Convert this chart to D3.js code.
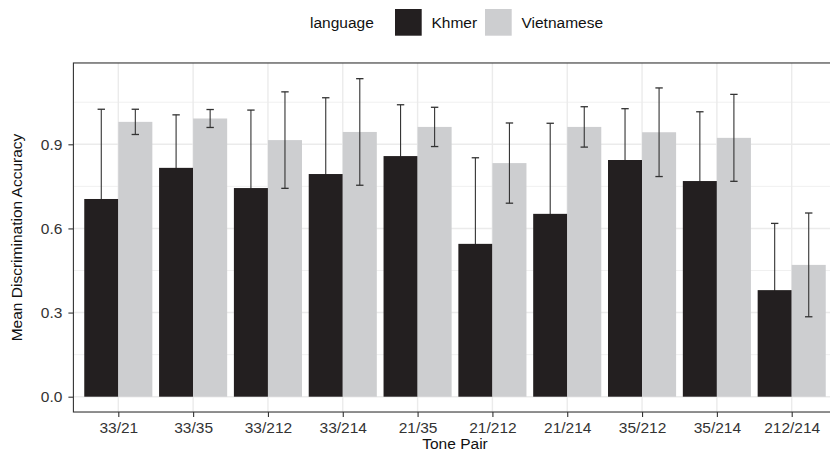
<!DOCTYPE html>
<html>
<head>
<meta charset="utf-8">
<script src="https://cdn.jsdelivr.net/npm/d3@7"></script>
<style>
  body { margin: 0; background: #fff; }
  svg { display: block; font-family: "Liberation Sans", Arial, sans-serif; }
</style>
</head>
<body>
<svg id="chart" width="830" height="451"></svg>
<script>
// tone pairs on the x axis
var tonePairs = ["33/21", "33/35", "33/212", "33/214", "21/35", "21/212", "21/214", "35/212", "35/214", "212/214"];
var languages = ["Khmer", "Vietnamese"];

// mean accuracy and error bar half widths
var khmerMean = [0.705, 0.816, 0.744, 0.794, 0.858, 0.545, 0.652, 0.844, 0.769, 0.380];
var khmerErr  = [0.320, 0.189, 0.278, 0.272, 0.183, 0.307, 0.323, 0.183, 0.247, 0.238];
var vietMean  = [0.980, 0.992, 0.915, 0.944, 0.962, 0.833, 0.962, 0.943, 0.923, 0.470];
var vietErr   = [0.045, 0.032, 0.172, 0.190, 0.070, 0.143, 0.072, 0.158, 0.155, 0.185];

var yTicks = [0, 0.3, 0.6, 0.9];
var yMinor = [0.15, 0.45, 0.75, 1.05];

var colors = { "Khmer": "#231f20", "Vietnamese": "#cdced0" };

var svg = d3.select("#chart");

var x = d3.scalePoint().domain(tonePairs).range([118.3, 791.7]);
var y = d3.scaleLinear().domain([0, 0.9]).range([396.7, 144.3]);

var step = x.step();
var panelLeft = x(tonePairs[0]) - 0.6 * step;
var panelRight = x(tonePairs[tonePairs.length - 1]) + 0.6 * step;
var panelTop = y(1.19);
var panelBottom = y(-0.0546);
var dodge = step * 0.91;

// rows for the bars
var rows = [];
tonePairs.forEach(function(p, i) {
    rows.push({ pair: p, lang: "Khmer", mean: khmerMean[i], err: khmerErr[i], k: 0 });
    rows.push({ pair: p, lang: "Vietnamese", mean: vietMean[i], err: vietErr[i], k: 1 });
});

var g = svg.append("g");

// grid
g.selectAll(".minor").data(yMinor).enter().append("line")
    .attr("x1", panelLeft).attr("x2", panelRight)
    .attr("y1", function(d) { return y(d); }).attr("y2", function(d) { return y(d); })
    .style("stroke", "#f0f0f0").style("stroke-width", 1);
g.selectAll(".major").data(yTicks).enter().append("line")
    .attr("x1", panelLeft).attr("x2", panelRight)
    .attr("y1", function(d) { return y(d); }).attr("y2", function(d) { return y(d); })
    .style("stroke", "#ebebeb").style("stroke-width", 1.4);
g.selectAll(".vgrid").data(tonePairs).enter().append("line")
    .attr("x1", function(d) { return x(d); }).attr("x2", function(d) { return x(d); })
    .attr("y1", panelTop).attr("y2", panelBottom)
    .style("stroke", "#ebebeb").style("stroke-width", 1.4);

function drawErrors(data) {
    var eb = g.selectAll(null).data(data).enter().append("g")
        .attr("transform", function(d) { return "translate(" + (x(d.pair) - dodge / 4 + d.k * dodge / 2) + ",0)"; });
    eb.append("line")
        .attr("x1", 0).attr("x2", 0)
        .attr("y1", function(d) { return y(d.mean - d.err); })
        .attr("y2", function(d) { return y(d.mean + d.err); })
        .style("stroke", "#333").style("stroke-width", 1.1);
    eb.selectAll(null).data(function(d) { return [d.mean - d.err, d.mean + d.err]; }).enter().append("line")
        .attr("x1", -3.7).attr("x2", 3.7)
        .attr("y1", function(v) { return y(v); }).attr("y2", function(v) { return y(v); })
        .style("stroke", "#333").style("stroke-width", 1.3);
}

// khmer error bars sit behind the dark bars
drawErrors(rows.filter(function(d) { return d.k === 0; }));

// bars
g.selectAll(".bar").data(rows).enter().append("rect")
    .attr("x", function(d) { return x(d.pair) - dodge / 2 + d.k * dodge / 2; })
    .attr("width", dodge / 2)
    .attr("y", function(d) { return y(d.mean); })
    .attr("height", function(d) { return y(0) - y(d.mean); })
    .style("fill", function(d) { return colors[d.lang]; });

drawErrors(rows.filter(function(d) { return d.k === 1; }));

// panel border
g.append("rect")
    .attr("x", panelLeft).attr("y", panelTop)
    .attr("width", panelRight - panelLeft).attr("height", panelBottom - panelTop)
    .style("fill", "none").style("stroke", "#333").style("stroke-width", 1.1);

// axes
var yAxis = g.append("g")
    .attr("transform", "translate(" + panelLeft + ",0)")
    .call(d3.axisLeft(y).tickValues(yTicks).tickFormat(d3.format(".1f")).tickSize(5).tickPadding(6));
var xAxis = g.append("g")
    .attr("transform", "translate(0," + panelBottom + ")")
    .call(d3.axisBottom(x).tickSize(5).tickPadding(5));
[yAxis, xAxis].forEach(function(a) {
    a.select(".domain").remove();
    a.selectAll(".tick line").style("stroke", "#333").style("stroke-width", 1.1);
    a.selectAll(".tick text").style("font-size", "15.5px").style("fill", "#333")
        .style("font-family", "Liberation Sans, Arial, sans-serif");
});

// axis titles
svg.append("text")
    .attr("x", (panelLeft + panelRight) / 2).attr("y", 449)
    .attr("text-anchor", "middle")
    .style("font-size", "15.5px").style("fill", "#111")
    .text("Tone Pair");
svg.append("text")
    .attr("transform", "translate(22," + ((panelTop + panelBottom) / 2) + ") rotate(-90)")
    .attr("text-anchor", "middle")
    .style("font-size", "15.5px").style("fill", "#111")
    .text("Mean Discrimination Accuracy");

// legend
var legend = svg.append("g");
legend.append("text")
    .attr("x", 310).attr("y", 28.3)
    .style("font-size", "15.5px").style("fill", "#111")
    .text("language");
var keyX = [395, 485];
languages.forEach(function(l, i) {
    legend.append("rect")
        .attr("x", keyX[i]).attr("y", 9)
        .attr("width", 26.7).attr("height", 26.7)
        .style("fill", colors[l]);
    legend.append("text")
        .attr("x", keyX[i] + 36.5).attr("y", 28.3)
        .style("font-size", "15.5px").style("fill", "#111")
        .text(l);
});
</script>
</body>
</html>
